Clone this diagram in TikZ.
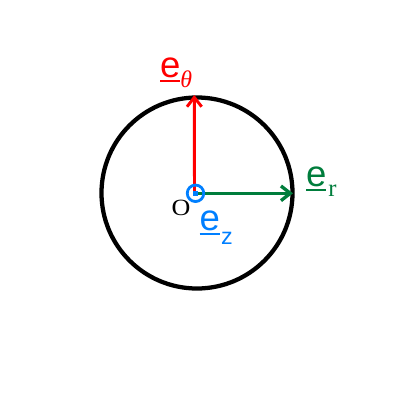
\documentclass[tikz,border=0pt]{standalone}
\usepackage{fontspec}
\setmainfont{Liberation Serif}
\newfontfamily\vecfont{Liberation Sans}
\usetikzlibrary{arrows.meta}
\definecolor{myred}{RGB}{255,0,0}
\definecolor{mygreen}{RGB}{0,125,60}
\definecolor{myblue}{RGB}{0,127,255}
\newcommand\ulvec[1]{{\vecfont\sbox0{#1}\rlap{\rule[-4bp]{\wd0}{1.6bp}}\usebox0}}
\tikzset{
  lbl/.style={anchor=base west, inner sep=0pt, outer sep=0pt},
  vecarrow/.style={line width=2.2bp, -{Straight Barb[length=7bp,width=11bp]}},
}
\begin{document}
\begin{tikzpicture}[x=0.75bp,y=-0.75bp]
\useasboundingbox (0,0) rectangle (400,400);
\node[circle, draw=black, line width=3.2bp, minimum size=191*0.75bp, inner sep=0pt] (circ) at (197,193) {};
\coordinate (O) at (194.5,193.3);
\coordinate (tipT) at (194.3,95);
\coordinate (tipR) at (293,193.3);
\draw[vecarrow, myred] (O) -- (tipT);
\draw[vecarrow, mygreen, line width=2.5bp] (O) -- (tipR);
\node[circle, draw=myblue, line width=2.1bp, minimum size=16.5*0.75bp, inner sep=0pt] (ez) at (195.5,193.3) {};
\node[fill=myblue, minimum size=5.5*0.75bp, inner sep=0pt] (ezdot) at (195.5,193.3) {};
\node[lbl, text=myred, font=\fontsize{27.5}{30}\selectfont] (lt) at (160,77) {\ulvec{e}\raisebox{-8bp}{\fontsize{18}{22}\selectfont\itshape θ}};
\node[lbl, text=mygreen, font=\fontsize{27.5}{30}\selectfont] (lr) at (306,186) {\ulvec{e}\hspace{1.5bp}\raisebox{-7.5bp}{\fontsize{18.5}{22}\selectfont r}};
\node[lbl, text=myblue, font=\fontsize{27.5}{30}\selectfont] (lz) at (199.5,230) {\ulvec{e}\hspace{1bp}\raisebox{-11bp}{\fontsize{17.5}{22}\selectfont\vecfont z}};
\node[lbl, font=\fontsize{17.5}{20}\selectfont] (lo) at (171.5,215) {\scalebox{1.12}[1]{O}};
\end{tikzpicture}
\end{document}
